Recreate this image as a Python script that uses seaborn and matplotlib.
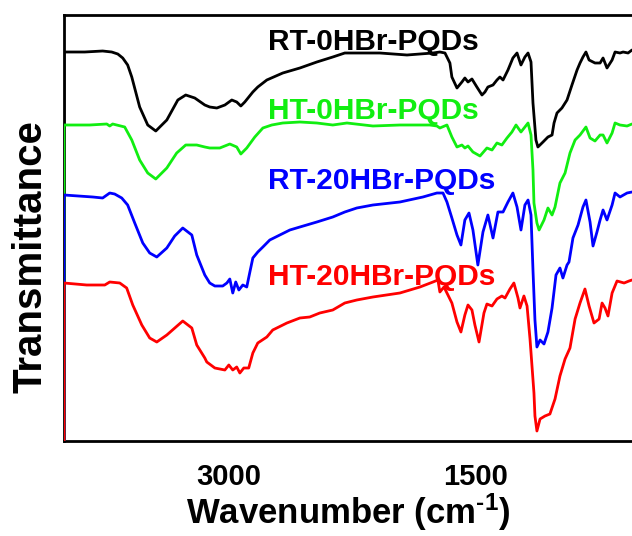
import matplotlib
matplotlib.use("Agg")
import matplotlib.pyplot as plt
import seaborn as sns
import pandas as pd

# ---------------- data (wavenumber in cm^-1, transmittance in a.u. with vertical offsets) ----------------
samples = ["RT-0HBr-PQDs", "HT-0HBr-PQDs", "RT-20HBr-PQDs", "HT-20HBr-PQDs"]
colors = ["#000000", "#11EE11", "#0000FF", "#FF0000"]

rt0_wn = [4000, 4000, 3874, 3765, 3710, 3673, 3643, 3613, 3588, 3564, 3540, 3491, 3442, 3375, 3308, 3260, 3205,
          3144, 3114, 3071, 3022, 2980, 2950, 2925, 2901, 2852, 2822, 2767, 2670, 2566, 2463, 2366, 2293, 2244,
          2080, 1915, 1757, 1715, 1684, 1654, 1642, 1611, 1581, 1563, 1544, 1520, 1490, 1459, 1441, 1423, 1392,
          1368, 1350, 1331, 1301, 1271, 1246, 1222, 1198, 1179, 1161, 1149, 1131, 1119, 1088, 1058, 1033, 1021,
          1003, 973, 942, 912, 881, 863, 845, 827, 808, 772, 741, 723, 699, 668, 650, 620, 601, 571, 547]
rt0_tr = [0, 389, 389, 390, 389, 387, 383, 376, 364, 349, 334, 316, 310, 321, 341, 346, 343,
          336, 334, 333, 336, 341, 339, 335, 339, 349, 354, 361, 368, 373, 379, 384, 388, 388,
          388, 386, 388, 389, 388, 378, 364, 353, 359, 363, 359, 362, 354, 346, 349, 354, 356,
          361, 364, 361, 371, 383, 388, 376, 384, 388, 379, 338, 301, 294, 299, 304, 306, 318,
          328, 333, 341, 356, 371, 378, 384, 389, 381, 378, 378, 383, 373, 381, 389, 388, 389, 388, 391]

ht0_wn = [4000, 4000, 3844, 3740, 3722, 3704, 3631, 3588, 3540, 3491, 3442, 3375, 3315, 3260, 3193, 3144, 3114,
          3053, 2992, 2950, 2925, 2889, 2840, 2791, 2737, 2670, 2566, 2463, 2366, 2280, 2122, 1958, 1776, 1733,
          1715, 1672, 1642, 1611, 1581, 1563, 1544, 1514, 1471, 1429, 1398, 1368, 1338, 1307, 1277, 1252, 1222,
          1198, 1179, 1161, 1149, 1143, 1125, 1112, 1082, 1058, 1033, 1015, 985, 954, 924, 893, 863, 827, 802,
          772, 741, 723, 699, 668, 650, 620, 577, 547]
ht0_tr = [0, 316, 316, 317, 315, 317, 314, 301, 281, 268, 262, 273, 288, 296, 296, 294, 293,
          293, 297, 294, 287, 293, 304, 313, 316, 318, 319, 318, 316, 318, 315, 316, 316, 315,
          313, 316, 304, 294, 296, 293, 295, 289, 285, 293, 291, 298, 296, 303, 309, 316, 309,
          314, 318, 306, 271, 238, 218, 211, 221, 233, 226, 234, 258, 268, 288, 301, 306, 314, 303,
          300, 306, 306, 298, 308, 318, 316, 315, 317]

rt20_wn = [4000, 4000, 3825, 3765, 3722, 3692, 3649, 3613, 3570, 3521, 3479, 3436, 3375, 3327, 3278, 3223, 3193,
           3144, 3114, 3083, 3035, 3010, 2992, 2974, 2956, 2937, 2913, 2889, 2870, 2852, 2822, 2791, 2749, 2688,
           2627, 2566, 2463, 2366, 2293, 2220, 2122, 1958, 1818, 1733, 1696, 1672, 1642, 1611, 1587, 1563, 1538,
           1514, 1484, 1453, 1423, 1392, 1362, 1331, 1301, 1271, 1246, 1222, 1198, 1179, 1161, 1149, 1137, 1125,
           1106, 1082, 1058, 1033, 1009, 985, 967, 942, 930, 906, 875, 845, 827, 802, 784, 760, 741, 723, 699,
           668, 650, 620, 577, 547]
rt20_tr = [0, 246, 244, 243, 248, 247, 243, 236, 218, 198, 188, 184, 193, 205, 213, 206, 186,
           166, 158, 155, 155, 158, 162, 148, 159, 151, 156, 154, 169, 183, 189, 194, 201, 206,
           211, 214, 219, 224, 229, 233, 236, 239, 244, 248, 248, 239, 223, 206, 196, 221, 228,
           211, 176, 209, 226, 203, 229, 229, 239, 248, 234, 211, 236, 241, 226, 171, 121, 94,
           101, 97, 109, 133, 166, 173, 163, 176, 179, 203, 216, 234, 241, 219, 195, 209, 221, 231, 221,
           236, 248, 244, 248, 249]

ht20_wn = [4000, 4000, 3862, 3752, 3722, 3661, 3619, 3582, 3527, 3479, 3436, 3375, 3278, 3223, 3193, 3144, 3132,
           3083, 3022, 2998, 2974, 2950, 2931, 2907, 2877, 2852, 2822, 2767, 2731, 2645, 2566, 2506, 2445, 2366,
           2293, 2220, 2122, 1958, 1836, 1757, 1727, 1715, 1690, 1672, 1642, 1611, 1587, 1563, 1544, 1520, 1502,
           1477, 1447, 1429, 1398, 1368, 1338, 1319, 1289, 1265, 1240, 1228, 1204, 1185, 1167, 1143, 1137, 1125,
           1106, 1076, 1046, 1015, 985, 954, 924, 893, 863, 833, 808, 778, 747, 729, 711, 693, 668, 638, 595,
           565, 547]
ht20_tr = [0, 158, 156, 156, 159, 158, 153, 136, 116, 103, 99, 106, 120, 113, 96, 83, 79,
           73, 71, 76, 71, 74, 68, 73, 73, 88, 98, 104, 111, 118, 123, 124, 128, 131,
           138, 141, 144, 148, 154, 159, 161, 149, 154, 148, 138, 119, 109, 126, 136, 131, 116,
           99, 128, 137, 135, 142, 145, 143, 152, 158, 143, 133, 145, 135, 102, 48, 25, 10,
           22, 25, 27, 42, 65, 82, 93, 122, 138, 152, 135, 118, 122, 138, 133, 125, 148, 160, 158,
           160, 161]

major_ticks = [3000, 1500]
major_labels = ["3000", "1500"]
minor_ticks = [3750, 2250, 750]

# ---------------- build long table ----------------
frames = []
for name, wn, tr in zip(samples,
                        [rt0_wn, ht0_wn, rt20_wn, ht20_wn],
                        [rt0_tr, ht0_tr, rt20_tr, ht20_tr]):
    frames.append(pd.DataFrame({"wavenumber": wn, "transmittance": tr, "sample": name}))
df = pd.concat(frames, ignore_index=True)

# ---------------- style ----------------
sns.set_theme(style="white")
plt.rcParams["font.family"] = ["Liberation Sans", "DejaVu Sans"]
plt.rcParams["font.weight"] = "bold"
plt.rcParams["mathtext.fontset"] = "custom"
plt.rcParams["mathtext.rm"] = "Liberation Sans:bold"
plt.rcParams["mathtext.it"] = "Liberation Sans:bold"
plt.rcParams["mathtext.bf"] = "Liberation Sans:bold"
plt.rcParams["mathtext.default"] = "rm"

fig = plt.figure(figsize=(6.32, 5.36), dpi=100)
ax = fig.add_axes([64 / 632, 95 / 536, 568 / 632, 426 / 536])

sns.lineplot(data=df, x="wavenumber", y="transmittance", hue="sample",
             hue_order=samples, palette=colors, estimator=None, sort=False,
             legend=False, linewidth=2.0, ax=ax, zorder=3)

ax.set_xlim(4000, 547)
ax.set_ylim(0, 426)

ax.set_xticks(major_ticks)
ax.set_xticklabels(major_labels)
ax.set_xticks(minor_ticks, minor=True)
ax.set_yticks([])

ax.tick_params(axis="x", which="major", direction="out", length=6, width=2,
               labelsize=21, pad=10, color="black", labelcolor="black")
ax.tick_params(axis="x", which="minor", direction="out", length=3.5, width=2, color="black")
for lab in ax.get_xticklabels():
    lab.set_fontweight("bold")

for side in ["left", "top", "bottom"]:
    ax.spines[side].set_linewidth(2)
    ax.spines[side].set_color("black")
ax.spines["right"].set_visible(False)

ax.set_xlabel("Wavenumber (cm$^{\\text{-1}}$)", fontsize=25, fontweight="bold", labelpad=0.5, color="black")
ax.set_ylabel("Transmittance", fontsize=29, fontweight="bold", color="black")
ax.yaxis.set_label_coords(-0.026, 0.432)

label_y = [0.918, 0.756, 0.592, 0.366]
for name, col, yy in zip(samples, colors, label_y):
    ax.text(0.359, yy, name, transform=ax.transAxes, ha="left", va="baseline",
            fontsize=21.5, fontweight="bold", color=col)

fig.savefig("out.png", dpi=100)
